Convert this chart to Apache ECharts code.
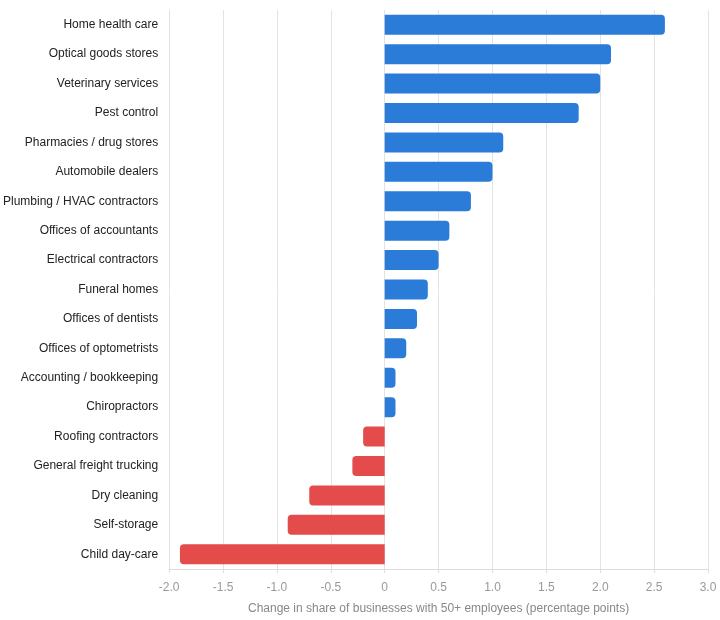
<!DOCTYPE html>
<html>
<head>
<meta charset="utf-8">
<script src="https://cdn.jsdelivr.net/npm/echarts@6/dist/echarts.min.js"></script>
<style>
  html, body { margin: 0; padding: 0; background: #fff; }
  #chart { width: 720px; height: 620px; }
</style>
</head>
<body>
<div id="chart"></div>
<script>
const categories = [
  'Home health care', 'Optical goods stores', 'Veterinary services', 'Pest control',
  'Pharmacies / drug stores', 'Automobile dealers', 'Plumbing / HVAC contractors',
  'Offices of accountants', 'Electrical contractors', 'Funeral homes',
  'Offices of dentists', 'Offices of optometrists', 'Accounting / bookkeeping',
  'Chiropractors', 'Roofing contractors', 'General freight trucking',
  'Dry cleaning', 'Self-storage', 'Child day-care'
]
const values = [2.6, 2.1, 2.0, 1.8, 1.1, 1.0, 0.8, 0.6, 0.5, 0.4, 0.3, 0.2, 0.1, 0.1, -0.2, -0.3, -0.7, -0.9, -1.9]
const axisName = 'Change in share of businesses with 50+ employees (percentage points)'

const chart = echarts.init(document.getElementById('chart'))

const option = {
  animation: false,
  textStyle: { fontFamily: 'Liberation Sans, Arial, sans-serif' },
  grid: { left: 169, right: 12, top: 10, bottom: 51 },
  xAxis: {
    type: 'value',
    min: -2, max: 3, interval: 0.5,
    name: axisName,
    nameLocation: 'middle',
    nameGap: 34,
    nameTextStyle: { color: '#888', fontSize: 12 },
    axisLine: { show: true, lineStyle: { color: '#ddd' } },
    axisTick: { show: true, length: 4, lineStyle: { color: '#ddd' } },
    axisLabel: {
      color: '#999', fontSize: 12, margin: 13,
      formatter: v => v === 0 ? '0' : v.toFixed(1)
    },
    splitLine: { show: true, lineStyle: { color: '#e3e3e3' } }
  },
  yAxis: {
    type: 'category',
    inverse: true,
    data: categories,
    axisLine: { show: false },
    axisTick: { show: false },
    axisLabel: { color: '#222', fontSize: 12, margin: 11 }
  },
  series: [{
    type: 'bar',
    barWidth: 20,
    data: values.map(v => ({
      value: v,
      itemStyle: {
        color: v >= 0 ? '#2b7bd9' : '#e44b4b',
        borderRadius: v >= 0 ? [0, 4, 4, 0] : [4, 0, 0, 4]
      }
    }))
  }]
}

chart.setOption(option)
</script>
</body>
</html>
